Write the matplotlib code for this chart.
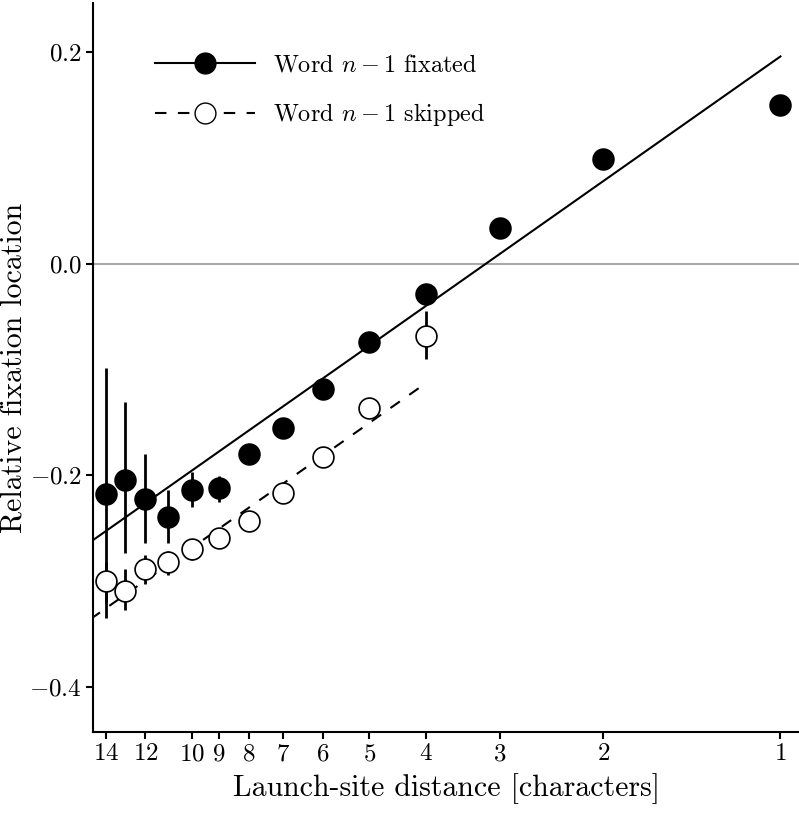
import numpy as np
import matplotlib
matplotlib.use('Agg')
import matplotlib.pyplot as plt

plt.rcParams['font.family'] = 'serif'
plt.rcParams['font.serif'] = ['cmr10', 'DejaVu Serif']
plt.rcParams['mathtext.fontset'] = 'cm'
plt.rcParams['axes.unicode_minus'] = False

# launch-site distance (characters)
dist_fix = np.array([14, 13, 12, 11, 10, 9, 8, 7, 6, 5, 4, 3, 2, 1])
loc_fix = np.array([-0.218, -0.204, -0.222, -0.239, -0.214, -0.212, -0.180,
                    -0.155, -0.118, -0.074, -0.029, 0.034, 0.0995, 0.150])
lo_fix = np.array([-0.335, -0.273, -0.264, -0.264, -0.230, -0.225, -0.186,
                   -0.160, -0.122, -0.078, -0.033, 0.030, 0.096, 0.147])
hi_fix = np.array([-0.099, -0.131, -0.180, -0.214, -0.197, -0.201, -0.174,
                   -0.150, -0.114, -0.070, -0.025, 0.038, 0.103, 0.153])

dist_skip = np.array([14, 13, 12, 11, 10, 9, 8, 7, 6, 5, 4])
loc_skip = np.array([-0.300, -0.309, -0.289, -0.282, -0.270, -0.259, -0.243,
                     -0.217, -0.183, -0.136, -0.068])
lo_skip = np.array([-0.320, -0.327, -0.303, -0.294, -0.280, -0.268, -0.251,
                    -0.224, -0.190, -0.143, -0.090])
hi_skip = np.array([-0.282, -0.289, -0.275, -0.272, -0.260, -0.250, -0.235,
                    -0.210, -0.176, -0.129, -0.045])

# fitted lines: loc = a + b * ln(distance)
fit_fix = (0.196, -0.170)
fit_skip = (0.123, -0.170)
fit_range_fix = (16, 1)
fit_range_skip = (16, 4)

xticks = [14, 12, 10, 9, 8, 7, 6, 5, 4, 3, 2, 1]
yticks = [0.2, 0.0, -0.2, -0.4]

fig = plt.figure(figsize=(7.99, 8.19), dpi=100)
ax = fig.add_axes([0.1164, 0.1062, 0.8836, 0.8901])

ax.axhline(0, color='#aaaaaa', lw=1.5, zorder=1)

dash = (0, (5.5, 5.5))
xs = np.geomspace(*fit_range_fix, 100)
ax.plot(xs, fit_fix[0] + fit_fix[1] * np.log(xs), color='black', lw=1.5, zorder=2)
xs = np.geomspace(*fit_range_skip, 100)
ax.plot(xs, fit_skip[0] + fit_skip[1] * np.log(xs), color='black', lw=1.5,
        linestyle=dash, zorder=2)

ax.vlines(dist_fix, lo_fix, hi_fix, color='black', lw=2, zorder=3)
ax.vlines(dist_skip, lo_skip, hi_skip, color='black', lw=2, zorder=3)
ax.plot(dist_fix, loc_fix, 'o', ms=15, mfc='black', mec='black', mew=1.2, zorder=4)
ax.plot(dist_skip, loc_skip, 'o', ms=15, mfc='white', mec='black', mew=1.2, zorder=4)

ax.set_xscale('log')
ax.set_xlim(14.73, 0.93)
ax.set_ylim(-0.4427, 0.2465)
ax.set_xticks(xticks)
ax.set_xticklabels(['$%d$' % t for t in xticks])
ax.minorticks_off()
ax.set_yticks(yticks)
ax.set_yticklabels(['$%.1f$' % t for t in yticks])
ax.tick_params(direction='out', length=5, width=1.5, labelsize=18, pad=3)

for s in ['top', 'right']:
    ax.spines[s].set_visible(False)
for s in ['left', 'bottom']:
    ax.spines[s].set_linewidth(1.5)

ax.set_xlabel('Launch-site distance [characters]', fontsize=21.5, labelpad=6)
ylab = ax.set_ylabel('Relative fixation location', fontsize=21.5)
ylab.set_va('baseline')
ax.yaxis.set_label_coords(-0.0994, 0.5)

h1, = ax.plot([], [], '-o', color='black', ms=15, mfc='black', lw=1.5)
h2, = ax.plot([], [], 'o', color='black', ms=15, mfc='white', lw=1.5,
              linestyle=dash)
ax.legend([h1, h2], ['Word $n-1$ fixated', 'Word $n-1$ skipped'],
          loc='upper left', bbox_to_anchor=(0.088, 0.929), frameon=False,
          borderaxespad=0, borderpad=0,
          fontsize=17.5, handlelength=4.1, labelspacing=1.0, handletextpad=0.75)

fig.savefig('out.png', dpi=100)
